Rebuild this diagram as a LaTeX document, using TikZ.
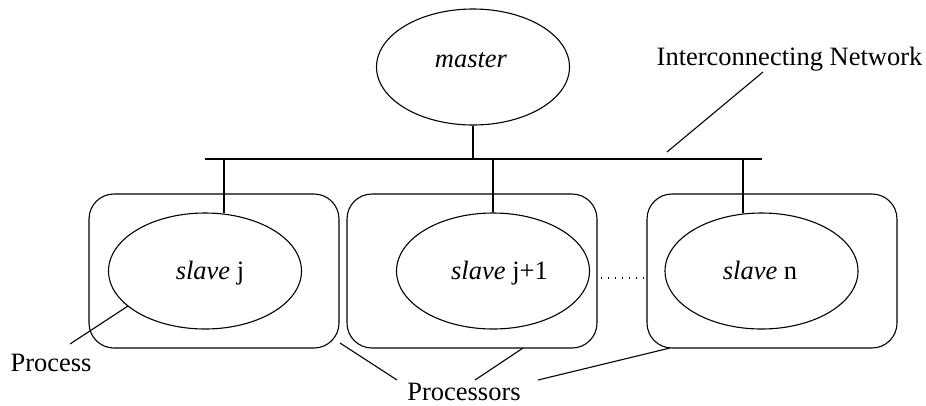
\documentclass[tikz,border=0pt]{standalone}
\usepackage{fontspec}
\setmainfont{Liberation Serif}
\usetikzlibrary{shapes.geometric,calc}
\begin{document}
\begin{tikzpicture}[x=1pt,y=-1pt,line width=1.1pt,
  proc/.style={ellipse,draw,minimum width=193pt,minimum height=116pt,inner sep=0pt},
  cpu/.style={rectangle,draw,rounded corners=25pt,minimum width=250pt,minimum height=154pt,inner sep=0pt},
  lbl/.style={inner sep=0pt,anchor=base,font=\fontsize{26.5}{30}\selectfont},
  dots/.style={line width=1.6pt,dash pattern=on 1.6pt off 5.4pt}]
\useasboundingbox (0,0) rectangle (926,405);
% processors
\node[cpu] (bj)  at (214,271) {};
\node[cpu] (bj1) at (472,271) {};
\node[cpu] (bn)  at (772,271) {};
% processes
\node[proc] (master) at (473,67) {};
\node[proc] (sj)  at (205,271) {};
\node[proc] (sj1) at (493,271) {};
\node[proc] (sn)  at (761.5,271) {};
% texts
\node[lbl] (tm)  at (471,67)  {\textit{master}};
\node[lbl] (tj)  at (210,279) {\textit{slave} j};
\node[lbl] (tj1) at (499.5,279) {\textit{slave} j+1};
\node[lbl] (tn)  at (760,279) {\textit{slave} n};
\node[lbl] (net) at (789.5,65) {Interconnecting Network};
\node[lbl] (pr)  at (51,371) {Process};
\node[lbl] (prs) at (464,400) {Processors};
% bus
\coordinate (busL) at (205,159);
\coordinate (busR) at (762,159);
\draw (busL) -- (busR);
\draw (master.south) -- (master.south |- busL);
\draw ($(sj.north)+(19,1)$) -- ++(0,-55);
\draw (sj1.north) -- (sj1.north |- busL);
\draw ($(sn.north)+(-18.5,1)$) -- ++(0,-55);
% dotted
\draw[dots] ($(bj1.east)+(3,7)$) -- ($(bn.west)+(-2,7)$);
% leaders
\coordinate (netA) at (763,72);
\coordinate (netB) at (667,152);
\draw (netA) -- (netB);
\coordinate (prA) at (70,344);
\coordinate (prB) at (128,306);
\draw (prA) -- (prB);
\coordinate (p1a) at (397,380);
\coordinate (p1b) at (340,343);
\coordinate (p2a) at (475,380);
\coordinate (p2b) at (523,348);
\coordinate (p3a) at (538,380);
\coordinate (p3b) at (670,348);
\draw (p1a) -- (p1b);
\draw (p2a) -- (p2b);
\draw (p3a) -- (p3b);
\end{tikzpicture}
\end{document}
